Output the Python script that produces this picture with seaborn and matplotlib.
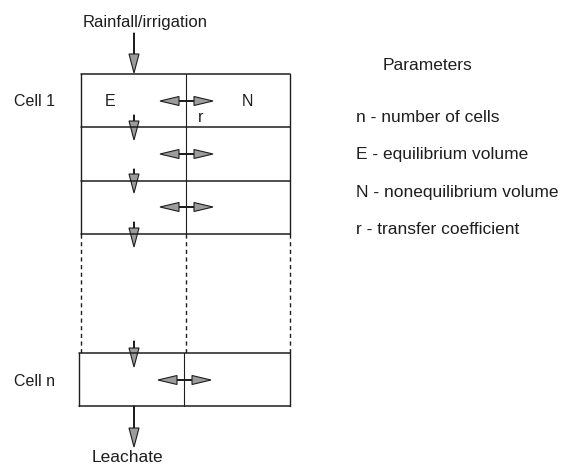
import matplotlib
import matplotlib.pyplot as plt
import seaborn as sns
from matplotlib.patches import FancyArrow

matplotlib.use("Agg")

# layout of the cell column (pixel units of the reference picture)
col_x = [81, 186, 290]               # left edge, E/N divider, right edge
top_rows = [74, 127, 181, 234]       # solid horizontal lines, cells 1-3
gap_rows = [234, 353]                # dashed (omitted cells) section
last_rows = [353, 406]               # cell n
down_x = 134
down_arrows = [(33, 73), (115, 140), (169, 193), (222, 247), (341, 367), (406, 447)]
swap_y = [101, 154, 207, 380]

cell_labels = ["Cell 1", "Cell n"]
cell_label_y = [101, 381]
param_title = "Parameters"
param_lines = [
    "n - number of cells",
    "E - equilibrium volume",
    "N - nonequilibrium volume",
    "r - transfer coefficient",
]
param_y = [118, 155, 192, 229]

INK = "#1e1e1e"
HEAD = "#9c9c9c"
FONT = "Liberation Sans"
FS = 11.5
FS_BIG = 12.5

sns.set_theme(style="white")
plt.rcParams["font.family"] = [FONT, "DejaVu Sans"]

fig = plt.figure(figsize=(5.62, 4.69), dpi=100)
ax = fig.add_axes([0, 0, 1, 1])
ax.set_xlim(0, 562)
ax.set_ylim(469, 0)
ax.axis("off")

left, mid, right = col_x

# solid cells 1-3
for y in top_rows:
    ax.plot([left, right], [y, y], color=INK, lw=1.1)
for x in col_x:
    ax.plot([x, x], [top_rows[0], top_rows[-1]], color=INK, lw=1.0 if x != mid else 0.8)

# dashed section for the omitted cells
for x in col_x:
    ax.plot([x, x], gap_rows, color=INK, lw=1.0, ls=(0, (3, 2.5)))

# cell n
for y in last_rows:
    ax.plot([left - 2, right], [y, y], color=INK, lw=1.1)
for x in [left - 2, mid - 2, right]:
    ax.plot([x, x], last_rows, color=INK, lw=1.0 if x != mid - 2 else 0.8)


def arrow(x, y, dx, dy, hw, hl):
    ax.add_patch(FancyArrow(x, y, dx, dy, width=0.6, head_width=hw, head_length=hl,
                            length_includes_head=True, fc=HEAD, ec=INK, lw=0.8))


# vertical flow arrows
for y0, y1 in down_arrows:
    arrow(down_x, y0, 0, y1 - y0, 10, 19)

# exchange arrows between E and N
for i, y in enumerate(swap_y):
    cx = mid if i < 3 else mid - 2
    arrow(cx, y, -26, 0, 9, 19)
    arrow(cx, y, 27, 0, 9, 19)

# labels on the column
ax.text(145, 22, "Rainfall/irrigation", ha="center", va="center", fontsize=12, color=INK)
ax.text(127, 458, "Leachate", ha="center", va="center", fontsize=FS_BIG, color=INK)
ax.text(110, 101, "E", ha="center", va="center", fontsize=FS, color=INK)
ax.text(247, 101, "N", ha="center", va="center", fontsize=FS, color=INK)
ax.text(201, 118, "r", ha="center", va="center", fontsize=FS, color=INK)
for lab, y in zip(cell_labels, cell_label_y):
    ax.text(35, y, lab, ha="center", va="center", fontsize=FS, color=INK)

# parameter legend
ax.text(428, 65, param_title, ha="center", va="center", fontsize=FS_BIG, color=INK)
for line, y in zip(param_lines, param_y):
    ax.text(356, y, line, ha="left", va="center", fontsize=FS_BIG, color=INK)

fig.savefig("out.png", dpi=100, facecolor="white")
